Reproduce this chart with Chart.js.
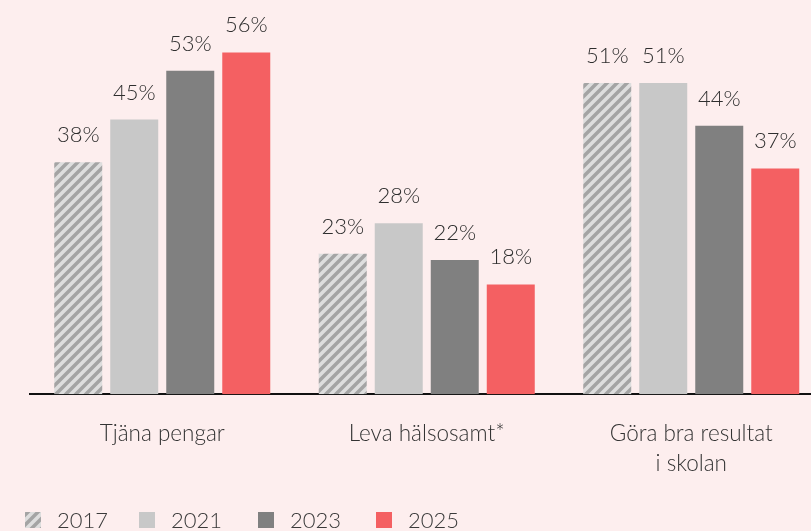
<!DOCTYPE html>
<html>
<head>
<meta charset="utf-8">
<script src="https://cdn.jsdelivr.net/npm/chart.js@4"></script>
<style>
  html, body { margin: 0; padding: 0; background: #fdeeee; overflow: hidden; }
  #wrap { width: 811px; height: 531px; overflow: hidden; }
</style>
</head>
<body>
<div id="wrap"><canvas id="chart" width="830" height="531"></canvas></div>
<script>
const categories = [['Tjäna pengar'], ['Leva hälsosamt*'], ['Göra bra resultat', 'i skolan']];
const years = ['2017', '2021', '2023', '2025'];
const v2017 = [38, 23, 51];
const v2021 = [45, 28, 51];
const v2023 = [53, 22, 44];
const v2025 = [56, 18, 37];

// diagonal hatch for 2017
function makeHatch() {
    const s = 10;
    const c = document.createElement('canvas');
    c.width = s; c.height = s;
    const g = c.getContext('2d');
    g.fillStyle = '#dedede';
    g.fillRect(0, 0, s, s);
    g.strokeStyle = '#a4a4a4';
    g.lineWidth = 3.5;
    g.beginPath();
    g.moveTo(-1, s + 1); g.lineTo(s + 1, -1);
    g.moveTo(-2, 2); g.lineTo(2, -2);
    g.moveTo(s - 2, s + 2); g.lineTo(s + 2, s - 2);
    g.stroke();
    return g.createPattern(c, 'repeat');
}

const ctx = document.getElementById('chart');
const hatch = makeHatch();
const colors = [hatch, '#c8c8c8', '#808080', '#f46062'];

// value labels above bars
const valueLabels = {
    id: 'valueLabels',
    afterDatasetsDraw(chart) {
        const c = chart.ctx;
        c.save();
        c.font = '300 22px Lato';
        c.fillStyle = '#2e2e2e';
        c.textAlign = 'center';
        c.textBaseline = 'alphabetic';
        chart.data.datasets.forEach((ds, i) => {
            chart.getDatasetMeta(i).data.forEach((bar, j) => {
                c.fillText(ds.data[j] + '%', bar.x, bar.y - 20);
            });
        });
        c.restore();
    }
};

// legend row at the bottom
const bottomLegend = {
    id: 'bottomLegend',
    afterDraw(chart) {
        const c = chart.ctx;
        c.save();
        c.font = '300 22px Lato';
        c.textBaseline = 'alphabetic';
        c.textAlign = 'left';
        const starts = [25, 139, 258, 376];
        const y = 512;
        chart.data.datasets.forEach((ds, i) => {
            const x = starts[i];
            c.fillStyle = ds.backgroundColor;
            c.fillRect(x, y, 16, 16);
            c.fillStyle = '#3a3a3a';
            c.fillText(ds.label, x + 32, y + 16);
        });
        c.restore();
    }
};

new Chart(ctx, {
    type: 'bar',
    data: {
        labels: categories,
        datasets: [
            { label: years[0], data: v2017, backgroundColor: colors[0] },
            { label: years[1], data: v2021, backgroundColor: colors[1] },
            { label: years[2], data: v2023, backgroundColor: colors[2] },
            { label: years[3], data: v2025, backgroundColor: colors[3] }
        ]
    },
    options: {
        responsive: false,
        animation: false,
        devicePixelRatio: 1,
        categoryPercentage: 0.847,
        barPercentage: 0.857,
        layout: { padding: { left: 30, right: 6.5, top: 28, bottom: 28 } },
        plugins: {
            legend: { display: false },
            tooltip: { enabled: false }
        },
        scales: {
            x: {
                grid: { display: false, drawTicks: false },
                border: { display: true, color: '#111111', width: 2 },
                ticks: {
                    color: '#333333',
                    font: { family: 'Lato', size: 22.5, weight: 300, lineHeight: 1.35 },
                    padding: 24,
                    maxRotation: 0
                }
            },
            y: {
                display: false,
                min: 0,
                max: 60
            }
        }
    },
    plugins: [valueLabels, bottomLegend]
});
</script>
</body>
</html>
